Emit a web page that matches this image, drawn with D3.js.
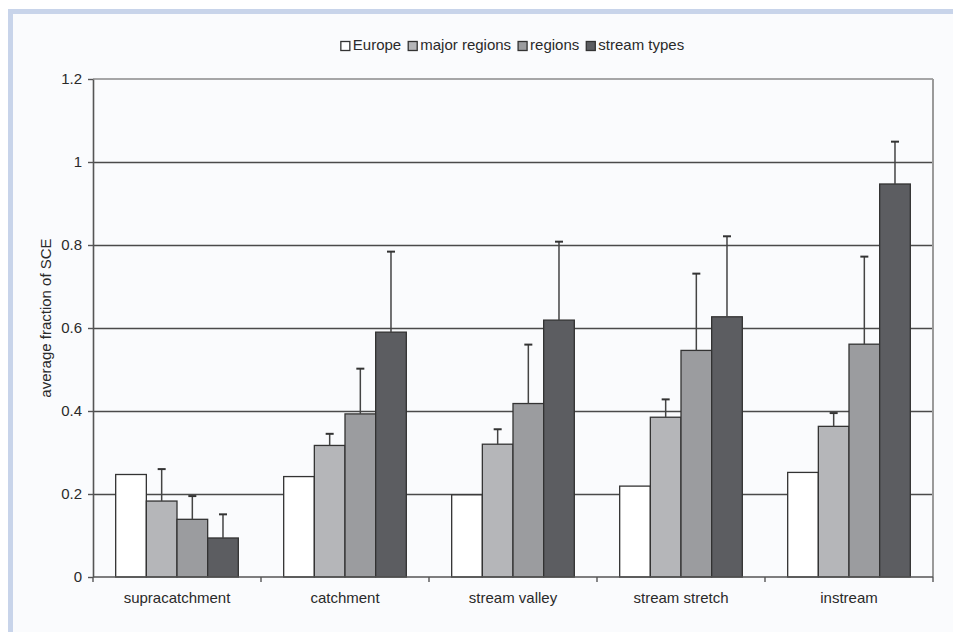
<!DOCTYPE html>
<html>
<head>
<meta charset="utf-8">
<script src="https://cdn.jsdelivr.net/npm/d3@7"></script>
<style>
  html, body { margin: 0; padding: 0; background: #ffffff; }
  svg { display: block; }
  text { font-family: "Liberation Sans", Arial, Helvetica, sans-serif; fill: #2a2a2a; }
</style>
</head>
<body>
<svg id="chart" width="953" height="632"></svg>
<script>
const categories = ["supracatchment", "catchment", "stream valley", "stream stretch", "instream"];
const seriesNames = ["Europe", "major regions", "regions", "stream types"];
const seriesColors = ["#ffffff", "#b5b6b9", "#9b9c9f", "#5c5d61"];
const europe       = [0.247, 0.242, 0.198, 0.219, 0.252];
const majorRegions = [0.183, 0.317, 0.320, 0.385, 0.363];
const regions      = [0.139, 0.393, 0.418, 0.546, 0.561];
const streamTypes  = [0.094, 0.590, 0.619, 0.627, 0.947];
const europeErr       = [null, null, null, null, null];
const majorRegionsErr = [0.077, 0.028, 0.036, 0.043, 0.032];
const regionsErr      = [0.056, 0.109, 0.142, 0.185, 0.211];
const streamTypesErr  = [0.057, 0.194, 0.189, 0.194, 0.102];
const yTickValues = [0, 0.2, 0.4, 0.6, 0.8, 1, 1.2];
const yTickLabels = ["0", "0.2", "0.4", "0.6", "0.8", "1", "1.2"];
const yTitle = "average fraction of SCE";

const seriesValues = [europe, majorRegions, regions, streamTypes];
const seriesErrors = [europeErr, majorRegionsErr, regionsErr, streamTypesErr];

const svg = d3.select("#chart");
const W = 953, H = 632;
const plot = { left: 93, right: 933, top: 79, bottom: 577 };

// frame / background
svg.append("rect").attr("x", 0).attr("y", 0).attr("width", W).attr("height", H).attr("fill", "#ffffff");
svg.append("rect").attr("x", 8).attr("y", 9).attr("width", W - 8).attr("height", H - 9).attr("fill", "#c8d4ea");
svg.append("rect").attr("x", 13).attr("y", 14).attr("width", W - 13).attr("height", H - 14).attr("fill", "#fafbfd");

const x0 = d3.scaleBand().domain(categories).range([plot.left, plot.right])
  .paddingInner(0.27).paddingOuter(0.135);
const x1 = d3.scaleBand().domain(seriesNames).range([0, x0.bandwidth()]).padding(0);
const y = d3.scaleLinear().domain([0, 1.2]).range([plot.bottom, plot.top]);

// gridlines
const grid = svg.append("g");
grid.selectAll("line").data(yTickValues.filter(v => v > 0 && v < 1.2)).join("line")
  .attr("x1", plot.left).attr("x2", plot.right)
  .attr("y1", d => Math.round(y(d)) + 0.5).attr("y2", d => Math.round(y(d)) + 0.5)
  .attr("stroke", "#4a4a4a").attr("stroke-width", 1.3);
// top and right border
svg.append("line").attr("x1", plot.left).attr("x2", plot.right)
  .attr("y1", y(1.2)).attr("y2", y(1.2)).attr("stroke", "#8a8a8a").attr("stroke-width", 1.5);
svg.append("line").attr("x1", plot.right).attr("x2", plot.right)
  .attr("y1", y(1.2)).attr("y2", plot.bottom).attr("stroke", "#9a9a9a").attr("stroke-width", 2);

// bars
const barData = [];
categories.forEach((c, i) => {
  seriesNames.forEach((s, j) => {
    barData.push({ cat: c, series: s, j: j, value: seriesValues[j][i], err: seriesErrors[j][i] });
  });
});

const bars = svg.append("g");
bars.selectAll("rect").data(barData).join("rect")
  .attr("x", d => x0(d.cat) + x1(d.series))
  .attr("y", d => y(d.value))
  .attr("width", x1.bandwidth())
  .attr("height", d => y(0) - y(d.value))
  .attr("fill", d => seriesColors[d.j])
  .attr("stroke", "#333333").attr("stroke-width", 1.3);

// error bars (upper only)
const errG = svg.append("g");
const errData = barData.filter(d => d.err != null);
errG.selectAll("line.stem").data(errData).join("line").attr("class", "stem")
  .attr("x1", d => x0(d.cat) + x1(d.series) + x1.bandwidth() / 2)
  .attr("x2", d => x0(d.cat) + x1(d.series) + x1.bandwidth() / 2)
  .attr("y1", d => y(d.value)).attr("y2", d => y(d.value + d.err))
  .attr("stroke", "#444444").attr("stroke-width", 1.5);
errG.selectAll("line.cap").data(errData).join("line").attr("class", "cap")
  .attr("x1", d => x0(d.cat) + x1(d.series) + x1.bandwidth() / 2 - 4)
  .attr("x2", d => x0(d.cat) + x1(d.series) + x1.bandwidth() / 2 + 4)
  .attr("y1", d => y(d.value + d.err)).attr("y2", d => y(d.value + d.err))
  .attr("stroke", "#333333").attr("stroke-width", 2);

// y axis
const yAxis = d3.axisLeft(y).tickValues(yTickValues)
  .tickFormat((d, i) => yTickLabels[i]).tickSize(5).tickSizeOuter(0).tickPadding(6);
const yg = svg.append("g").attr("transform", `translate(${plot.left},0)`).call(yAxis);
yg.select(".domain").attr("stroke", "#555555").attr("stroke-width", 1.6);
yg.selectAll(".tick line").attr("stroke", "#555555").attr("stroke-width", 1.4);
yg.selectAll(".tick text").attr("font-size", 15).attr("fill", "#2a2a2a")
  .style("font-family", '"Liberation Sans", Arial, sans-serif');

// x axis line with boundary ticks
const xg = svg.append("g");
xg.append("line").attr("x1", plot.left).attr("x2", plot.right)
  .attr("y1", y(0)).attr("y2", y(0)).attr("stroke", "#555555").attr("stroke-width", 1.6);
const boundaries = categories.map(c => x0(c) - x0.step() * x0.paddingInner() / 2).concat([plot.right]);
xg.selectAll("line.bt").data(boundaries).join("line").attr("class", "bt")
  .attr("x1", d => d).attr("x2", d => d)
  .attr("y1", y(0)).attr("y2", y(0) + 5)
  .attr("stroke", "#555555").attr("stroke-width", 1.4);
xg.selectAll("text").data(categories).join("text")
  .attr("x", d => x0(d) + x0.bandwidth() / 2)
  .attr("y", 603)
  .attr("text-anchor", "middle")
  .attr("font-size", 15)
  .text(d => d);

// y title
svg.append("text")
  .attr("transform", "translate(51,318) rotate(-90)")
  .attr("text-anchor", "middle")
  .attr("font-size", 15)
  .text(yTitle);

// legend
const legend = svg.append("g");
const sq = 9, gapText = 3, gapItem = 7;
const items = seriesNames.map((s, j) => {
  const g = legend.append("g");
  g.append("rect").attr("width", sq).attr("height", sq).attr("y", -sq + 0.5)
    .attr("fill", seriesColors[j]).attr("stroke", "#333333").attr("stroke-width", 1.3);
  const t = g.append("text").attr("x", sq + gapText).attr("y", 0).attr("font-size", 15).text(s);
  const w = sq + gapText + t.node().getComputedTextLength();
  return { g, w };
});
const totalW = d3.sum(items, d => d.w) + gapItem * (items.length - 1);
let cx = 512.5 - totalW / 2;
items.forEach(it => {
  it.g.attr("transform", `translate(${cx},50)`);
  cx += it.w + gapItem;
});
</script>
</body>
</html>
